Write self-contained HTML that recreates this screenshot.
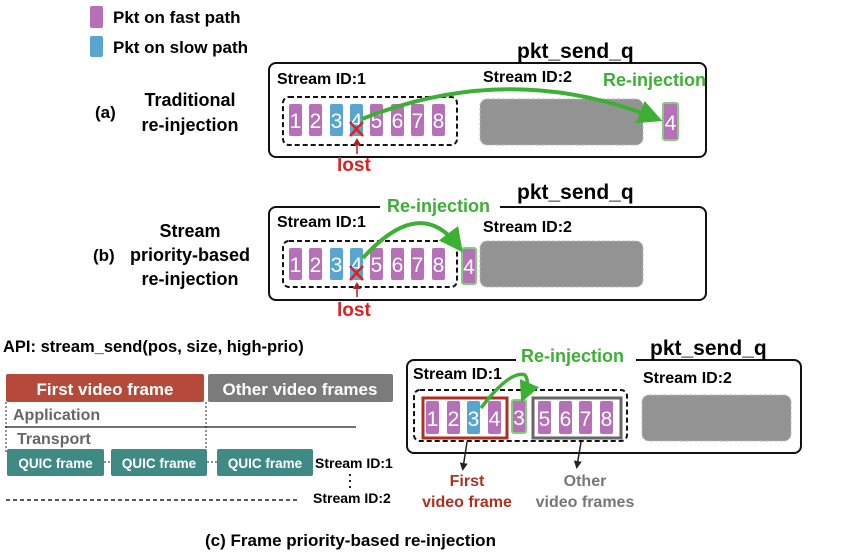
<!DOCTYPE html>
<html><head><meta charset="utf-8"><style>
html,body{margin:0;padding:0;background:#fff;}
svg{display:block;font-family:"Liberation Sans",Arial,sans-serif;font-weight:bold;}
.p{fill:#b570b8;}.b{fill:#58a6d0;}
.n{fill:#fff;font-weight:normal;font-size:21px;text-anchor:middle;}
</style></head><body>
<svg width="844" height="560" viewBox="0 0 844 560" xmlns="http://www.w3.org/2000/svg">
<defs>
<marker id="ga" markerWidth="6" markerHeight="6" refX="4" refY="3" orient="auto"><path d="M0,0 L6,3 L0,6 z" fill="#3cb034"/></marker>
<marker id="ka" markerWidth="8" markerHeight="8" refX="5" refY="4" orient="auto" markerUnits="userSpaceOnUse"><path d="M0,0 L8,4 L0,8 z" fill="#222"/></marker>
<marker id="ra" markerWidth="8" markerHeight="8" refX="5" refY="4" orient="auto" markerUnits="userSpaceOnUse"><path d="M0,0 L8,4 L0,8 z" fill="#b03020"/></marker>
</defs>
<!-- legend -->
<rect x="90" y="6" width="13" height="22" rx="2" class="p"/>
<text x="113" y="23" font-size="17">Pkt on fast path</text>
<rect x="90" y="36" width="13" height="21" rx="2" class="b"/>
<text x="113" y="53" font-size="17">Pkt on slow path</text>

<!-- (a) -->
<text x="95" y="118" font-size="17">(a)</text>
<text x="190" y="106" font-size="18" text-anchor="middle">Traditional</text>
<text x="190" y="131" font-size="18" text-anchor="middle">re-injection</text>
<rect x="269" y="63" width="437" height="94" rx="7" fill="none" stroke="#111" stroke-width="2"/>
<text x="517" y="58" font-size="21">pkt_send_q</text>
<text x="277" y="84" font-size="16">Stream ID:1</text>
<text x="483" y="82" font-size="16">Stream ID:2</text>
<rect x="283" y="97" width="174" height="48" rx="6" fill="none" stroke="#111" stroke-width="2" stroke-dasharray="5,3"/>
<g>
<rect x="289" y="104" width="13" height="32" rx="2" class="p"/><text x="295.5" y="128" class="n">1</text>
<rect x="309" y="104" width="13" height="32" rx="2" class="p"/><text x="315.5" y="128" class="n">2</text>
<rect x="330" y="104" width="13" height="32" rx="2" class="b"/><text x="336.5" y="128" class="n">3</text>
<rect x="350" y="104" width="13" height="32" rx="2" class="b"/><text x="356.5" y="128" class="n">4</text>
<rect x="370" y="104" width="13" height="32" rx="2" class="p"/><text x="376.5" y="128" class="n">5</text>
<rect x="391" y="104" width="13" height="32" rx="2" class="p"/><text x="397.5" y="128" class="n">6</text>
<rect x="411" y="104" width="13" height="32" rx="2" class="p"/><text x="417.5" y="128" class="n">7</text>
<rect x="432" y="104" width="13" height="32" rx="2" class="p"/><text x="438.5" y="128" class="n">8</text>
</g>
<rect x="480" y="99" width="163" height="46" rx="7" fill="#939393" stroke="#bbb" stroke-dasharray="3,2"/>
<rect x="663" y="103" width="15" height="37" rx="2" class="p" stroke="#7fcf78" stroke-width="2"/><text x="670.5" y="130" class="n">4</text>
<path d="M362,119 Q510,60 655,118" fill="none" stroke="#3cb034" stroke-width="4" marker-end="url(#ga)"/>
<text x="603" y="86" font-size="18" fill="#3cb034">Re-injection</text>
<path d="M350,122 L363,136 M363,122 L350,136" stroke="#e02020" stroke-width="2.5"/>
<path d="M357,154 L357,142" stroke="#b02020" stroke-width="1.5"/><path d="M353,145 L357,138 L361,145z" fill="#b02020"/>
<text x="337" y="171" font-size="19" fill="#e02020">lost</text>

<!-- (b) -->
<text x="93" y="261" font-size="17">(b)</text>
<text x="190" y="237" font-size="18" text-anchor="middle">Stream</text>
<text x="190" y="261" font-size="18" text-anchor="middle">priority-based</text>
<text x="190" y="285" font-size="18" text-anchor="middle">re-injection</text>
<rect x="269" y="207" width="437" height="93" rx="7" fill="none" stroke="#111" stroke-width="2"/>
<text x="517" y="199" font-size="21">pkt_send_q</text>
<text x="277" y="227" font-size="16">Stream ID:1</text>
<text x="483" y="232" font-size="16">Stream ID:2</text>
<rect x="283" y="241" width="174" height="46" rx="6" fill="none" stroke="#111" stroke-width="2" stroke-dasharray="5,3"/>
<g>
<rect x="289" y="248" width="13" height="32" rx="2" class="p"/><text x="295.5" y="272" class="n">1</text>
<rect x="309" y="248" width="13" height="32" rx="2" class="p"/><text x="315.5" y="272" class="n">2</text>
<rect x="330" y="248" width="13" height="32" rx="2" class="b"/><text x="336.5" y="272" class="n">3</text>
<rect x="350" y="248" width="13" height="32" rx="2" class="b"/><text x="356.5" y="272" class="n">4</text>
<rect x="370" y="248" width="13" height="32" rx="2" class="p"/><text x="376.5" y="272" class="n">5</text>
<rect x="391" y="248" width="13" height="32" rx="2" class="p"/><text x="397.5" y="272" class="n">6</text>
<rect x="411" y="248" width="13" height="32" rx="2" class="p"/><text x="417.5" y="272" class="n">7</text>
<rect x="432" y="248" width="13" height="32" rx="2" class="p"/><text x="438.5" y="272" class="n">8</text>
</g>
<rect x="480" y="241" width="163" height="46" rx="7" fill="#939393" stroke="#bbb" stroke-dasharray="3,2"/>
<rect x="462" y="248" width="14" height="36" rx="2" class="p" stroke="#7fcf78" stroke-width="2"/><text x="469" y="274" class="n">4</text>
<rect x="380" y="198" width="120" height="18" fill="#fff"/>
<text x="387" y="212" font-size="18" fill="#3cb034">Re-injection</text>
<path d="M363,258 Q420,195 458,246" fill="none" stroke="#3cb034" stroke-width="4" marker-end="url(#ga)"/>
<path d="M350,266 L363,280 M363,266 L350,280" stroke="#e02020" stroke-width="2.5"/>
<path d="M357,297 L357,286" stroke="#b02020" stroke-width="1.5"/><path d="M353,289 L357,282 L361,289z" fill="#b02020"/>
<text x="337" y="316" font-size="19" fill="#e02020">lost</text>

<!-- (c) left -->
<text x="3" y="352" font-size="16.5">API: stream_send(pos, size, high-prio)</text>
<rect x="6" y="374" width="198" height="28" rx="2" fill="#b5493a"/>
<text x="105" y="395" font-size="17" fill="#fff" text-anchor="middle">First video frame</text>
<rect x="208" y="374" width="185" height="28" rx="2" fill="#7b7b7b"/>
<text x="300" y="395" font-size="17" fill="#fff" text-anchor="middle">Other video frames</text>
<text x="13" y="420" font-size="16" fill="#666">Application</text>
<line x1="5" y1="427" x2="356" y2="427" stroke="#444" stroke-width="1.5"/>
<text x="17" y="444" font-size="16" fill="#666">Transport</text>
<line x1="6" y1="402" x2="6" y2="452" stroke="#222" stroke-dasharray="2,2"/>
<line x1="206" y1="402" x2="206" y2="450" stroke="#222" stroke-dasharray="2,2"/>
<line x1="104" y1="462" x2="111" y2="462" stroke="#222" stroke-dasharray="2,2"/>
<line x1="207" y1="462" x2="217" y2="462" stroke="#222" stroke-dasharray="2,2"/>
<rect x="7" y="449" width="97" height="27" rx="2" fill="#3f8a85"/>
<rect x="111" y="449" width="96" height="27" rx="2" fill="#3f8a85"/>
<rect x="217" y="449" width="96" height="27" rx="2" fill="#3f8a85"/>
<text x="55.5" y="468" font-size="13.5" fill="#fff" text-anchor="middle">QUIC frame</text>
<text x="159" y="468" font-size="13.5" fill="#fff" text-anchor="middle">QUIC frame</text>
<text x="265" y="468" font-size="13.5" fill="#fff" text-anchor="middle">QUIC frame</text>
<text x="315" y="468" font-size="14">Stream ID:1</text>
<line x1="350" y1="474" x2="350" y2="489" stroke="#222" stroke-width="2" stroke-dasharray="2,4"/>
<text x="313" y="503" font-size="14">Stream ID:2</text>
<line x1="6" y1="500" x2="300" y2="500" stroke="#222" stroke-width="1.5" stroke-dasharray="4,3"/>

<!-- (c) right -->
<rect x="407" y="360" width="394" height="93" rx="7" fill="none" stroke="#111" stroke-width="2"/>
<rect x="516" y="348" width="120" height="18" fill="#fff"/>
<text x="521" y="362" font-size="18" fill="#3cb034">Re-injection</text>
<text x="650" y="355" font-size="21">pkt_send_q</text>
<text x="413" y="379" font-size="16">Stream ID:1</text>
<text x="643" y="383" font-size="16">Stream ID:2</text>
<rect x="414" y="390" width="213" height="51" rx="6" fill="none" stroke="#111" stroke-width="2" stroke-dasharray="5,3"/>
<rect x="423" y="398" width="84" height="40" fill="none" stroke="#b03020" stroke-width="3"/>
<rect x="533" y="398" width="88" height="40" fill="none" stroke="#666" stroke-width="3"/>
<g>
<rect x="426" y="401" width="13" height="33" rx="2" class="p"/><text x="432.5" y="426" class="n">1</text>
<rect x="447" y="401" width="13" height="33" rx="2" class="p"/><text x="453.5" y="426" class="n">2</text>
<rect x="467" y="401" width="13" height="33" rx="2" class="b"/><text x="473.5" y="426" class="n">3</text>
<rect x="488" y="401" width="13" height="33" rx="2" class="p"/><text x="494.5" y="426" class="n">4</text>
<rect x="512" y="400" width="14" height="33" rx="2" class="p" stroke="#7fcf78" stroke-width="2"/><text x="519" y="425" class="n">3</text>
<rect x="538" y="401" width="13" height="33" rx="2" class="p"/><text x="544.5" y="426" class="n">5</text>
<rect x="559" y="401" width="13" height="33" rx="2" class="p"/><text x="565.5" y="426" class="n">6</text>
<rect x="579" y="401" width="13" height="33" rx="2" class="p"/><text x="585.5" y="426" class="n">7</text>
<rect x="600" y="401" width="13" height="33" rx="2" class="p"/><text x="606.5" y="426" class="n">8</text>
</g>
<rect x="642" y="395" width="149" height="46" rx="7" fill="#939393" stroke="#bbb" stroke-dasharray="3,2"/>
<path d="M481,408 Q510,370 525,375 Q530,382 524,396" fill="none" stroke="#3cb034" stroke-width="3.5" marker-end="url(#ga)"/>
<line x1="467" y1="442" x2="463" y2="468" stroke="#222" stroke-width="1.5" marker-end="url(#ka)"/>
<line x1="581" y1="442" x2="577" y2="466" stroke="#222" stroke-width="1.5" marker-end="url(#ka)"/>
<text x="467" y="486" font-size="16" fill="#b03020" text-anchor="middle">First</text>
<text x="467" y="507" font-size="16" fill="#b03020" text-anchor="middle">video frame</text>
<text x="585" y="486" font-size="16" fill="#777" text-anchor="middle">Other</text>
<text x="585" y="507" font-size="16" fill="#777" text-anchor="middle">video frames</text>

<text x="205" y="546" font-size="17">(c)  Frame priority-based re-injection</text>
</svg>
</body></html>
